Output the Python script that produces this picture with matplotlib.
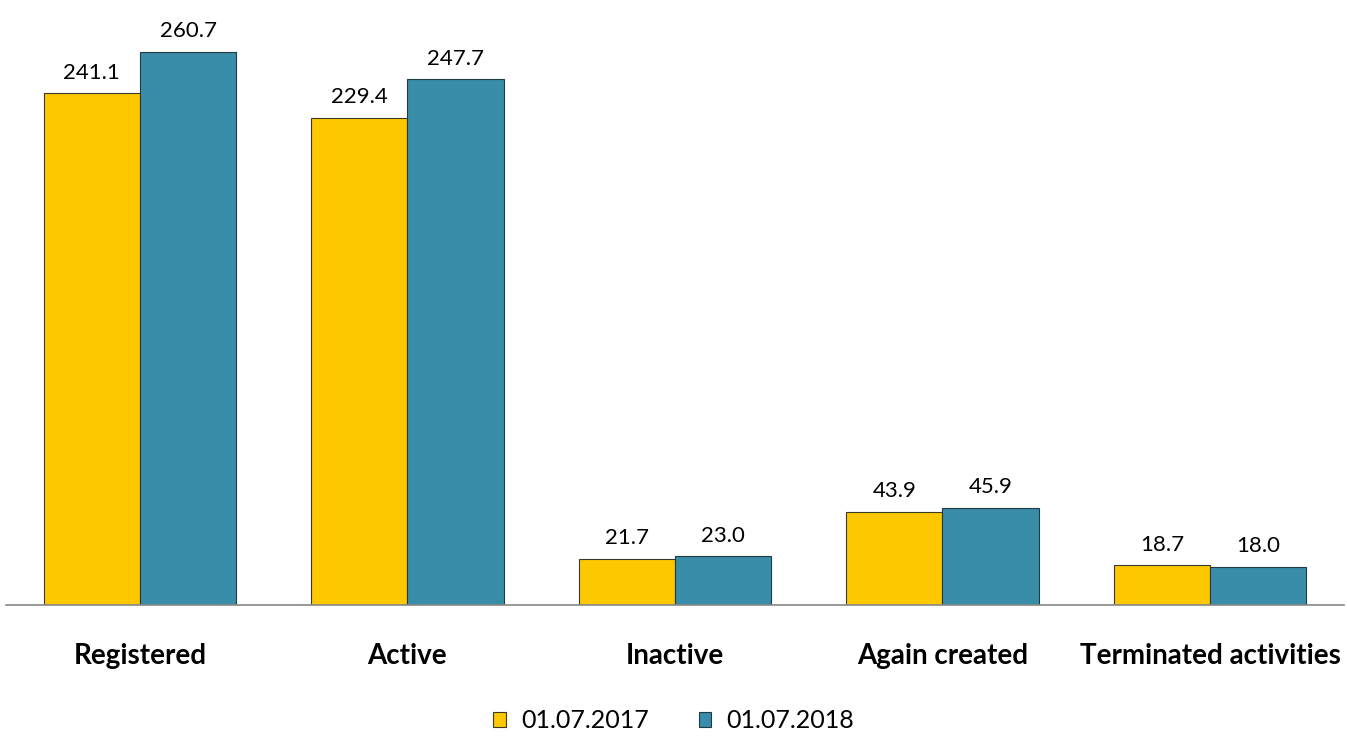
import matplotlib.pyplot as plt
import numpy as np

categories = ["Registered", "Active", "Inactive", "Again created", "Terminated activities"]
series_names = ["01.07.2017", "01.07.2018"]
values_2017 = [241.1, 229.4, 21.7, 43.9, 18.7]
values_2018 = [260.7, 247.7, 23.0, 45.9, 18.0]
colors = ["#FDC800", "#3A8DA8"]

plt.rcParams['font.family'] = ['Lato', 'DejaVu Sans']

fig = plt.figure(figsize=(13.47, 7.37), dpi=100)
ax = fig.add_axes([0.0046, 0.179, 0.993, 0.821])

x = np.arange(len(categories))
w = 0.36
b1 = ax.bar(x - w / 2, values_2017, w, color=colors[0], edgecolor="#3a3a2a", linewidth=0.8, label=series_names[0])
b2 = ax.bar(x + w / 2, values_2018, w, color=colors[1], edgecolor="#1f3a44", linewidth=0.8, label=series_names[1])

for bars, vals in [(b1, values_2017), (b2, values_2018)]:
    for r, v in zip(bars, vals):
        ax.text(r.get_x() + r.get_width() / 2, v + 5, f"{v:.1f}", ha="center", va="bottom", fontsize=16)

ax.set_xlim(-0.5, len(categories) - 0.5)
ax.set_ylim(0, 285)
ax.set_yticks([])
ax.set_xticks(x)
ax.set_xticklabels(categories, fontsize=20, fontweight="bold")
ax.tick_params(axis="x", length=0, pad=27)
for s in ["top", "right", "left"]:
    ax.spines[s].set_visible(False)
ax.spines["bottom"].set_color("#888888")
ax.spines["bottom"].set_linewidth(1.2)

fig.legend(loc="center", bbox_to_anchor=(0.5, 0.022), ncol=2, frameon=False, fontsize=18,
           handlelength=0.5, handleheight=0.6, handletextpad=0.6, columnspacing=2.0)

fig.savefig("out.png", dpi=100)
